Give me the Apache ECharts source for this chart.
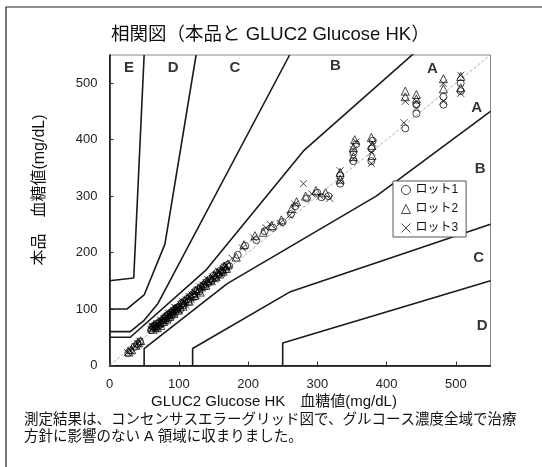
<!DOCTYPE html>
<html>
<head>
<meta charset="utf-8">
<script src="https://cdn.jsdelivr.net/npm/echarts@6/dist/echarts.min.js"></script>
<style>
html,body{margin:0;padding:0;background:#fff;}
#chartMain{width:542px;height:467px;}
</style>
</head>
<body>
<div id="chartMain"></div>
<script>
// 相関図 データ
var axisTicks = [0, 100, 200, 300, 400, 500];

// ロット1 (○)
var lot1 = [
	[27,22],[30,27],[36,33],[40,38],[44,42],
	[60,63],[62,69],[65,70],[67,66],[68,74],[70,69],[72,77],[73,72],[76,80],[77,75],[79,84],[81,80],[82,87],[85,90],[86,84],
	[88,93],[90,89],[91,96],[94,99],[95,93],[97,102],[100,104],[102,99],[104,110],[107,106],[108,114],[112,118],[114,112],
	[116,122],[120,126],[122,121],[124,132],[128,135],[130,131],[132,139],[136,143],[138,140],[140,148],[143,146],[145,153],
	[148,151],[150,159],[153,155],[155,164],[158,161],[160,168],[163,166],[165,174],[168,170],[170,178],[173,176],
	[185,196],[196,212],[212,222],[224,238],[236,244],[250,254],[262,268],[268,282],[285,296],[300,306],[306,298],[316,300],
	[333,322],[333,336],[352,362],[352,378],[356,392],[378,362],[378,384],[380,398],[427,420],[443,446],[443,462],
	[482,462],[482,476],[507,486],[507,500]
];
// ロット2 (△)
var lot2 = [
	[28,24],[32,28],[38,36],[42,40],[45,44],
	[61,68],[63,64],[64,72],[67,70],[69,67],[70,75],[73,76],[74,71],[76,82],[78,78],[79,85],[82,88],[83,82],[86,91],[87,87],
	[89,95],[92,98],[93,92],[95,101],[98,103],[99,98],[101,108],[105,111],[106,105],[109,115],[113,119],[115,114],[117,124],
	[121,128],[123,124],[125,133],[129,136],[131,130],[133,141],[137,146],[139,142],[141,150],[146,155],[147,150],[151,160],
	[154,157],[156,165],[159,162],[161,170],[164,167],[166,176],[169,172],[171,180],
	[183,192],[194,214],[210,230],[222,236],[234,248],[248,258],[263,278],[270,290],[283,300],[298,310],[312,306],
	[333,330],[333,342],[352,370],[352,386],[354,400],[379,372],[379,390],[378,404],[427,476],[427,486],[443,472],[443,480],
	[482,490],[482,508],[507,492],[507,512]
];
// ロット3 (×)
var lot3 = [
	[26,23],[31,26],[37,34],[41,39],[44,43],
	[60,64],[61,70],[63,67],[66,71],[67,65],[69,74],[72,74],[74,80],[75,79],[78,83],[80,78],[81,86],[84,88],[85,92],[87,93],
	[89,88],[90,94],[93,97],[94,103],[96,102],[99,102],[100,98],[103,108],[106,113],[107,112],[110,107],[111,116],[115,122],
	[118,117],[119,125],[123,129],[126,124],[127,134],[131,139],[134,136],[135,142],[139,146],[142,152],[144,150],[149,157],
	[152,153],[154,161],[157,167],[159,166],[162,163],[164,171],[167,175],[169,177],
	[177,190],[192,208],[208,226],[226,244],[232,250],[246,252],[260,266],[268,286],[280,322],[292,304],[304,300],[318,296],
	[333,326],[333,345],[352,366],[352,382],[356,396],[378,358],[378,378],[380,394],[425,430],[427,468],[443,456],[443,468],
	[482,468],[482,500],[507,482],[507,514]
];

// コンセンサスエラーグリッド 境界線
var upperA = [[0,50],[30,50],[140,170],[280,380],[5000,5500]];
var upperB = [[0,60],[30,60],[50,80],[70,110],[260,550]];
var upperC = [[0,100],[25,100],[50,125],[80,215],[125,550]];
var upperD = [[0,150],[35,155],[50,550]];
var lowerA = [[50,0],[50,30],[170,145],[385,300],[550,450]];
var lowerB = [[120,0],[120,30],[260,130],[550,250]];
var lowerC = [[250,0],[250,40],[550,150]];
var identityLine = [[0,0],[550,550]];

// 領域ラベル
var zoneLabels = [
	{name:'E', value:[28,528]},
	{name:'D', value:[92,528]},
	{name:'C', value:[181,528]},
	{name:'B', value:[326,530]},
	{name:'A', value:[466,526]},
	{name:'A', value:[530,456]},
	{name:'B', value:[535,348]},
	{name:'C', value:[533,191]},
	{name:'D', value:[538,70]}
];

var fontJa = "'Liberation Sans', 'Noto Sans CJK JP', sans-serif";

function boundary(data){
	return {
		type:'line', data:data, symbol:'none', silent:true, clip:true,
		lineStyle:{color:'#1a1a1a', width:1.6}, z:3
	};
}

function lotSeries(name, data, symbol, size){
	return {
		name:name, type:'scatter', data:data, symbol:symbol, symbolSize:size, z:4,
		itemStyle:{color:'rgba(0,0,0,0)', borderColor:'#000', borderWidth:0.9}
	};
}

var chartMain = echarts.init(document.getElementById('chartMain'));

var axisCommon = {
	type:'value', min:0, max:550, interval:100,
	axisLine:{show:true, lineStyle:{color:'#000', width:1.5}},
	axisTick:{show:true, inside:true, length:4, lineStyle:{color:'#333'}},
	splitLine:{show:false},
	axisLabel:{color:'#222', fontSize:13, fontFamily:fontJa, margin:12, showMaxLabel:false,
		formatter:function(v){ return axisTicks.indexOf(v) >= 0 ? String(v) : ''; }}
};

var option = {
	animation:false,
	backgroundColor:'#fff',
	title:{
		text:'相関図（本品と GLUC2 Glucose HK）',
		left:106, top:21,
		textStyle:{fontSize:18.5, fontWeight:'normal', color:'#111', fontFamily:fontJa}
	},
	grid:{left:109.5, top:55, right:51.5, bottom:101.5, containLabel:false, outerBoundsMode:'none',
		show:true, borderColor:'#888', borderWidth:1, backgroundColor:'#fff'},
	xAxis:axisCommon,
	yAxis:axisCommon,
	legend:{
		data:['ロット1','ロット2','ロット3'],
		orient:'vertical', left:393, top:181,
		padding:[3,8,3,8], itemGap:7, itemWidth:9, itemHeight:9,
		itemStyle:{borderWidth:0.9, borderColor:'#000', color:'rgba(0,0,0,0)'},
		borderColor:'#555', borderWidth:1, backgroundColor:'#fff',
		textStyle:{fontSize:12, color:'#111', fontFamily:fontJa}
	},
	graphic:[
		{type:'rect', shape:{x:6, y:7, width:700, height:700}, style:{fill:'none', stroke:'#222', lineWidth:1.2}, silent:true},
		{type:'text', x:274, y:402, style:{text:'GLUC2 Glucose HK　血糖値(mg/dL)', fontSize:15, fontFamily:fontJa, fill:'#111', align:'center', verticalAlign:'middle'}},
		{type:'text', x:40, y:190, rotation:Math.PI/2, style:{text:'本品　血糖値(mg/dL)', fontSize:16, fontFamily:fontJa, fill:'#111', align:'center', verticalAlign:'middle'}},
		{type:'text', x:24, y:420, style:{text:'測定結果は、コンセンサスエラーグリッド図で、グルコース濃度全域で治療', fontSize:14.5, fontFamily:fontJa, fill:'#111', verticalAlign:'middle'}},
		{type:'text', x:24, y:437, style:{text:'方針に影響のない A 領域に収まりました。', fontSize:14.5, fontFamily:fontJa, fill:'#111', verticalAlign:'middle'}}
	],
	series:[
		{type:'line', data:identityLine, symbol:'none', silent:true,
			lineStyle:{color:'#999', width:0.8, type:[3,2]}, z:2},
		boundary(upperA), boundary(upperB), boundary(upperC), boundary(upperD),
		boundary(lowerA), boundary(lowerB), boundary(lowerC),
		lotSeries('ロット1', lot1, 'circle', 7),
		lotSeries('ロット2', lot2, 'triangle', 8),
		lotSeries('ロット3', lot3, 'path://M0,0L10,10M10,0L0,10', 7),
		{type:'scatter', data:zoneLabels, symbolSize:0, silent:true, z:5,
			label:{show:true, position:'inside', formatter:'{b}', color:'#000', fontSize:15, fontWeight:'bold', fontFamily:"'Liberation Sans', sans-serif"}}
	]
};

chartMain.setOption(option);
</script>
</body>
</html>
